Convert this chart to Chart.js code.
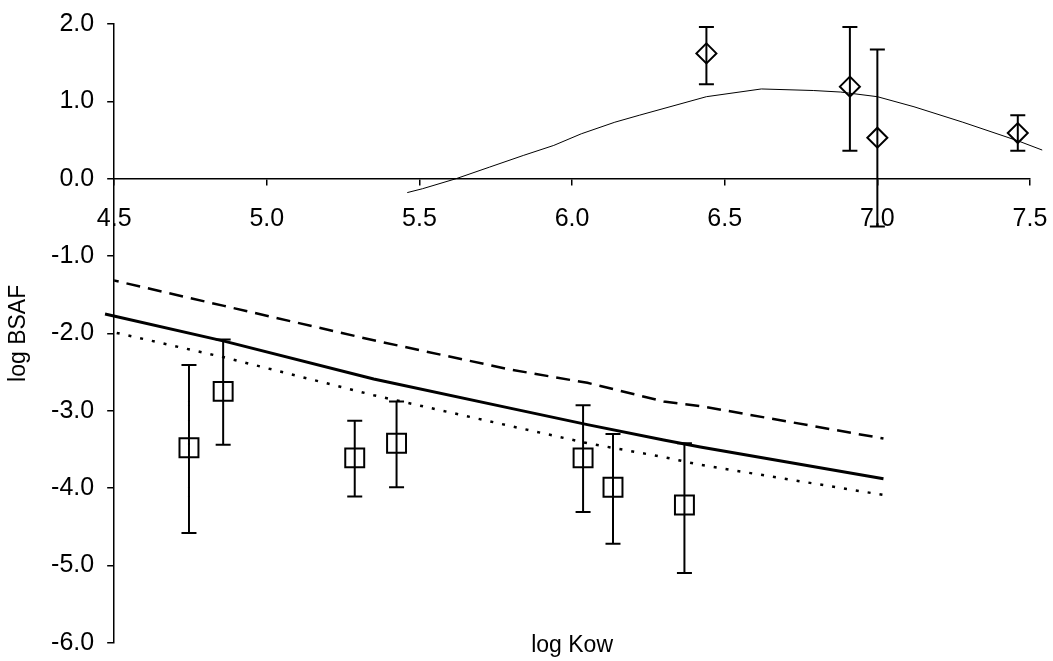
<!DOCTYPE html>
<html lang="en">
<head>
  <meta charset="UTF-8">
  <title>log BSAF vs log Kow</title>
  <script src="https://cdn.jsdelivr.net/npm/chart.js@4.4.0/dist/chart.umd.min.js"></script>
  <style>
    html, body { margin: 0; background: #fff; }
    .chart-box { position: relative; width: 1053px; height: 661px; }
  </style>
</head>
<body>
  <div class="chart-box"><canvas id="bsafChart"></canvas></div>

  <script>
    // upper panel: measured points (diamonds) with ranges, thin model curve
    const diamondKow  = [6.44, 6.91, 7.00, 7.46];
    const diamondBsaf = [1.62, 1.19, 0.53, 0.59];
    const diamondHi   = [1.96, 1.96, 1.67, 0.82];
    const diamondLo   = [1.22, 0.36, -0.62, 0.36];
    const curveKow  = [5.46, 5.51, 5.62, 5.73, 5.84, 5.94, 6.03, 6.14, 6.22, 6.44, 6.62, 6.79, 6.88, 7.00, 7.12, 7.28, 7.46, 7.54];
    const curveBsaf = [-0.18, -0.13, 0.00, 0.15, 0.30, 0.43, 0.58, 0.73, 0.82, 1.06, 1.16, 1.14, 1.12, 1.06, 0.93, 0.73, 0.49, 0.37];

    // lower panel: measured points (squares) with ranges, three model lines
    const squareKow  = [4.745, 4.857, 5.288, 5.425, 6.036, 6.134, 6.368];
    const squareBsaf = [-3.48, -2.75, -3.61, -3.42, -3.61, -3.99, -4.22];
    const squareHi   = [-2.41, -2.08, -3.13, -2.88, -2.93, -3.30, -3.42];
    const squareLo   = [-4.58, -3.44, -4.11, -3.99, -4.31, -4.72, -5.10];
    const modelKow   = [4.47, 4.86, 5.35, 5.80, 6.05, 6.30, 6.42, 7.02];
    const modelMid   = [-1.75, -2.10, -2.59, -2.97, -3.18, -3.38, -3.47, -3.88];
    const modelUpper = [-1.29, -1.645, -2.09, -2.47, -2.64, -2.88, -2.94, -3.36];
    const modelLower = [-1.96, -2.31, -2.80, -3.20, -3.42, -3.60, -3.70, -4.09];

    const xTicks = [4.5, 5.0, 5.5, 6.0, 6.5, 7.0, 7.5];
    const yTicks = [2, 1, 0, -1, -2, -3, -4, -5, -6];

    const pts = (xs, ys) => xs.map((x, i) => ({x: x, y: ys[i]}));
    // vertical range bars, a null point between each so the line breaks
    const bars = (xs, lo, hi) => xs.flatMap((x, i) => [{x: x, y: lo[i]}, {x: x, y: hi[i]}, {x: x, y: null}]);

    Chart.defaults.font.family = '"Liberation Sans", Arial, sans-serif';
    Chart.defaults.color = '#000';

    const black = '#000';
    const rangeStyle = {
      showLine: true, spanGaps: false, borderColor: black, borderWidth: 2,
      pointStyle: 'line', pointRadius: 7.5, pointBorderWidth: 2, pointBorderColor: black
    };

    new Chart(document.getElementById('bsafChart'), {
      type: 'scatter',
      data: {
        datasets: [
          Object.assign({data: bars(diamondKow, diamondLo, diamondHi)}, rangeStyle),
          Object.assign({data: bars(squareKow, squareLo, squareHi)}, rangeStyle),
          {
            data: pts(diamondKow, diamondBsaf),
            pointStyle: 'rectRot', pointRadius: 10, borderWidth: 2,
            borderColor: black, backgroundColor: 'rgba(0,0,0,0)'
          },
          {
            data: pts(squareKow, squareBsaf),
            pointStyle: 'rect', pointRadius: 13.4, borderWidth: 2,
            borderColor: black, backgroundColor: 'rgba(0,0,0,0)'
          },
          {
            data: pts(curveKow, curveBsaf), showLine: true, clip: false,
            borderColor: black, borderWidth: 1, pointRadius: 0
          },
          {
            data: pts(modelKow, modelMid), showLine: true, clip: false,
            borderColor: black, borderWidth: 3, pointRadius: 0
          },
          {
            data: pts(modelKow, modelUpper), showLine: true,
            borderColor: black, borderWidth: 2.5, borderDash: [14, 8], pointRadius: 0
          },
          {
            data: pts(modelKow, modelLower), showLine: true,
            borderColor: black, borderWidth: 2.5, borderDash: [3, 9], pointRadius: 0
          }
        ]
      },
      options: {
        responsive: true,
        maintainAspectRatio: false,
        animation: false,
        layout: {padding: {top: 24, right: 23, bottom: 0, left: 2}},
        plugins: {legend: {display: false}, tooltip: {enabled: false}},
        scales: {
          x: {
            type: 'linear', min: 4.5, max: 7.5,
            position: {y: 0},
            // axis sits at y = 0 and takes no room; layout padding decides the edges
            afterFit: axis => { axis.height = 0; axis.paddingLeft = 0; axis.paddingRight = 0; },
            afterBuildTicks: axis => { axis.ticks = xTicks.map(v => ({value: v})); },
            border: {color: black, width: 1.5},
            grid: {drawOnChartArea: false, tickLength: 6, color: black, lineWidth: 1.5},
            ticks: {padding: 19, maxRotation: 0, font: {size: 25}, callback: v => v.toFixed(1)}
          },
          kowTitle: {
            type: 'linear', axis: 'x', position: 'bottom',
            ticks: {display: false},
            grid: {display: false, drawTicks: false},
            border: {display: false},
            title: {display: true, text: 'log Kow', font: {size: 23}, padding: {top: -11.3, bottom: 2}}
          },
          y: {
            type: 'linear', min: -6, max: 2, position: 'left',
            afterFit: axis => { axis.paddingTop = 0; axis.paddingBottom = 0; },
            afterBuildTicks: axis => { axis.ticks = yTicks.map(v => ({value: v})); },
            border: {color: black, width: 1.5},
            grid: {drawOnChartArea: false, tickLength: 7, color: black, lineWidth: 1.5},
            ticks: {padding: 13, font: {size: 25}, callback: v => v.toFixed(1)},
            title: {display: true, text: 'log BSAF', font: {size: 23}, padding: {top: 3, bottom: 5.5}}
          }
        }
      }
    });
  </script>
</body>
</html>
